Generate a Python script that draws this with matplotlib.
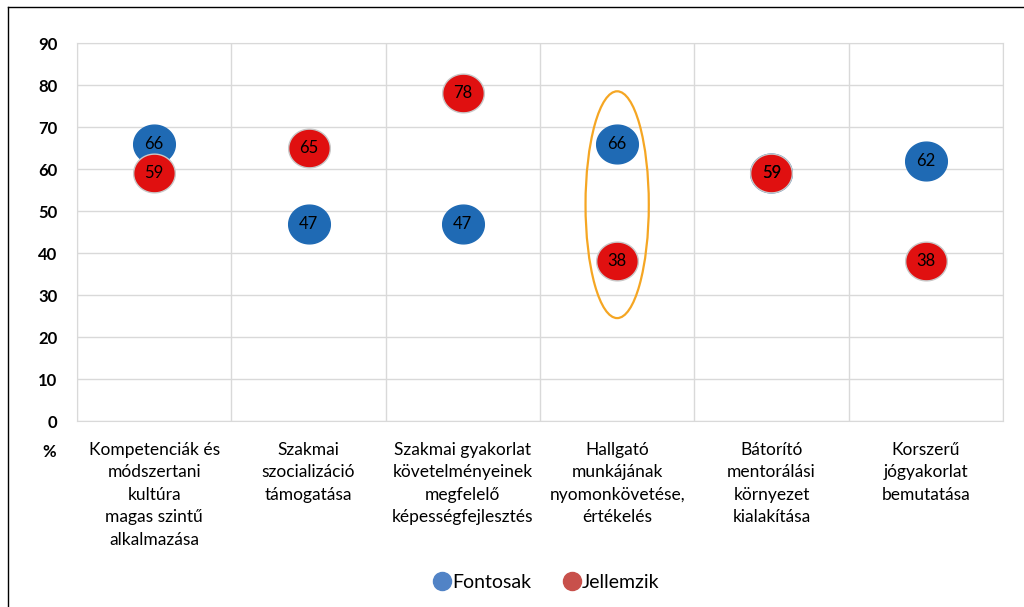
import numpy as np
import matplotlib
matplotlib.use('Agg')
import matplotlib.pyplot as plt
from matplotlib.path import Path
from matplotlib.patches import Ellipse
from matplotlib.lines import Line2D

plt.rcParams['font.family'] = ['Lato', 'DejaVu Sans']

# data
categories = ['Kompetenciák és\nmódszertani\nkultúra\nmagas szintű\nalkalmazása',
              'Szakmai\nszocializáció\ntámogatása',
              'Szakmai gyakorlat\nkövetelményeinek\nmegfelelő\nképességfejlesztés',
              'Hallgató\nmunkájának\nnyomonkövetése,\nértékelés',
              'Bátorító\nmentorálási\nkörnyezet\nkialakítása',
              'Korszerű\njógyakorlat\nbemutatása']
fontosak = [66, 47, 47, 66, 59, 62]
jellemzik = [59, 65, 78, 38, 59, 38]
y_ticks = [0, 10, 20, 30, 40, 50, 60, 70, 80, 90]

# elliptical marker (a bit wider than tall)
t = np.linspace(0, 2*np.pi, 80)
ell = Path(np.column_stack([np.cos(t), 0.93*np.sin(t)]), closed=True)

fig = plt.figure(figsize=(10.24, 6.07), dpi=100)
ax = fig.add_axes([77/1024, 1-421/607, (1003-77)/1024, (421-43)/607])

x = np.arange(len(categories))
ax.plot(x, fontosak, linestyle='', marker=ell, markersize=30,
        markerfacecolor='#1F6AB4', markeredgecolor='#1F6AB4', zorder=3)
ax.plot(x, jellemzik, linestyle='', marker=ell, markersize=30,
        markerfacecolor='#E01010', markeredgecolor='#C8C8C8', markeredgewidth=1, zorder=4)
for xi, v in zip(x, fontosak):
    ax.text(xi, v, str(v), ha='center', va='center', fontsize=12, color='black', zorder=5)
for xi, v in zip(x, jellemzik):
    ax.text(xi, v, str(v), ha='center', va='center', fontsize=12, color='black', zorder=6)

# orange highlight around the 4th category
ax.add_patch(Ellipse((3, 51.5), 0.41, 54, fill=False, edgecolor='#F5A623', lw=1.6, zorder=7))

ax.set_xlim(-0.5, 5.5)
ax.set_ylim(0, 90)
ax.set_yticks(y_ticks)
ax.set_yticklabels([str(v) for v in y_ticks], fontsize=12, fontweight='bold')
ax.set_xticks(np.arange(-0.5, 6, 1), minor=False)
ax.set_xticklabels([])
ax.set_xticks(x, minor=True)
ax.set_xticklabels(categories, minor=True, fontsize=12.5, linespacing=1.5, va='top')
ax.tick_params(axis='both', which='both', length=0)
ax.tick_params(axis='x', which='minor', pad=15)
ax.tick_params(axis='y', pad=14)
ax.grid(True, which='major', color='#D9D9D9', lw=1)
ax.set_axisbelow(True)
for s in ax.spines.values():
    s.set_color('#D9D9D9')

fig.text(49/1024, 1-452/607, '%', fontsize=12, fontweight='bold', ha='center', va='center')

handles = [Line2D([], [], linestyle='', marker='o', markersize=13, color='#5183C6'),
           Line2D([], [], linestyle='', marker='o', markersize=13, color='#C8504B')]
fig.legend(handles, ['Fontosak', 'Jellemzik'], loc='center', bbox_to_anchor=(0.533, 1-582/607),
           ncol=2, frameon=False, fontsize=14, handletextpad=0.0, columnspacing=1.6,
           handlelength=1.0)

# outer frame (top and left edges visible)
fig.add_artist(Line2D([8/1024, 8/1024], [0, 1-7/607], transform=fig.transFigure, color='black', lw=1))
fig.add_artist(Line2D([8/1024, 1], [1-7/607, 1-7/607], transform=fig.transFigure, color='black', lw=1))

fig.savefig('out.png', dpi=100)
